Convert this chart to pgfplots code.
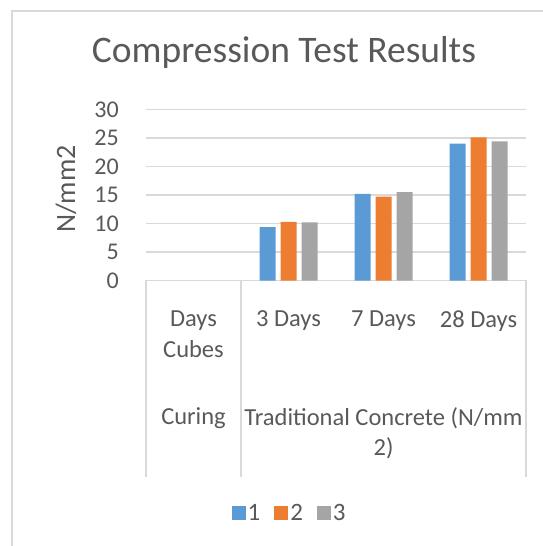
\documentclass[border=0pt]{standalone}
\usepackage{fontspec}
\setmainfont{Carlito}
\usepackage{pgfplots}
\pgfplotsset{compat=1.18}
\definecolor{txt}{HTML}{595959}
\definecolor{gridc}{HTML}{D9D9D9}
\definecolor{sone}{HTML}{5B9BD5}
\definecolor{stwo}{HTML}{ED7D31}
\definecolor{sthree}{HTML}{A5A5A5}
\begin{document}
\begin{tikzpicture}[x=1pt,y=1pt]
\useasboundingbox (0,0) rectangle (543,546);
% chart frame
\draw[gridc, line width=1.5pt] (12,-5) -- (12,535) -- (560,535);
\node[txt, anchor=base, font=\fontsize{37.5}{40}\selectfont] at (284,483) {Compression Test Results};
\node[txt, rotate=90, font=\fontsize{28}{30}\selectfont] at (66,357) {N/mm2};
\begin{axis}[
  at={(146pt,265.5pt)}, anchor=south west,
  scale only axis, width=380pt, height=171pt,
  xmin=-0.5, xmax=3.5, ymin=0, ymax=30,
  ytick={0,5,...,30}, xtick=\empty,
  ymajorgrids, grid style={gridc, line width=1.2pt},
  axis line style={draw=none},
  major tick length=0pt,
  /pgf/number format/assume math mode=true,
  yticklabel style={txt, font=\fontsize{24}{28}\selectfont, inner sep=0pt, xshift=-27pt},
  ybar=5pt, bar width=16pt,
  legend columns=3,
  legend style={at={(0.378,-1.36)}, anchor=center, draw=none, fill=none,
    font=\fontsize{25}{28}\selectfont, text=txt,
    /tikz/every even column/.append style={column sep=12pt}},
  legend image code/.code={\fill[#1] (0pt,-7pt) rectangle (14pt,7pt);},
]
\addplot[fill=sone, draw=none] coordinates {(1,9.35) (2,15.2) (3,24.0)};
\addplot[fill=stwo, draw=none] coordinates {(1,10.3) (2,14.7) (3,25.1)};
\addplot[fill=sthree, draw=none] coordinates {(1,10.2) (2,15.5) (3,24.4)};
\legend{1,2,3}
\end{axis}
% multi-level category axis
\draw[gridc, line width=1.2pt] (146,265.5) -- (146,69) (241,265.5) -- (241,69) (526,265.5) -- (526,69);
\begin{scope}[every node/.style={txt, font=\fontsize{24.5}{28}\selectfont}]
\node at (193.5,225) {Days};
\node at (193.5,197) {Cubes};
\node at (288.5,225) {3 Days};
\node at (383.5,225) {7 Days};
\node at (478.5,225) {28 Days};
\node at (193.5,128) {Curing};
\node at (383.5,128) {Traditional Concrete (N/mm};
\node at (383.5,98) {2)};
\end{scope}
\end{tikzpicture}
\end{document}
